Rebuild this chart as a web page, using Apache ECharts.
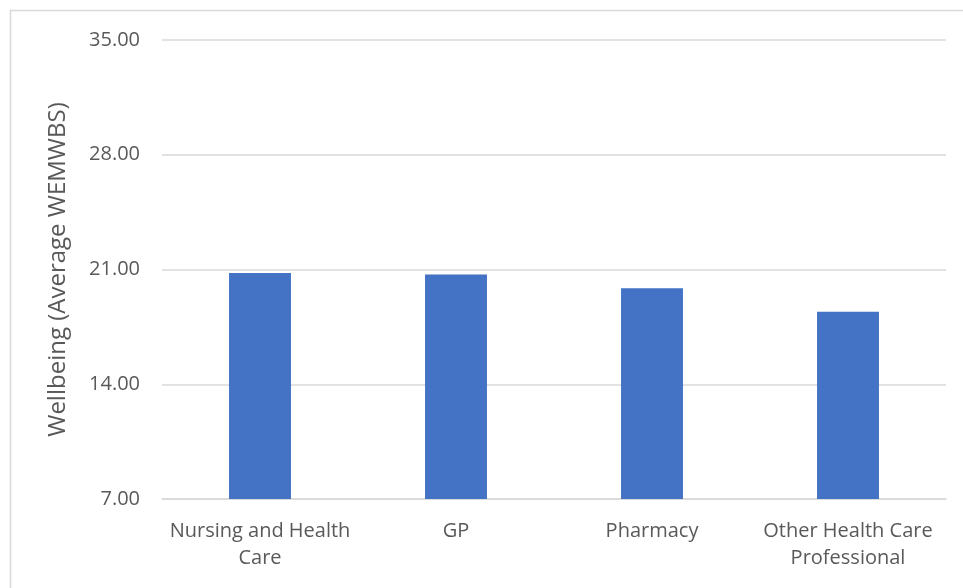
<!DOCTYPE html>
<html>
<head>
<meta charset="utf-8">
<script src="https://cdn.jsdelivr.net/npm/echarts@6/dist/echarts.min.js"></script>
<style>
  html, body { margin: 0; padding: 0; background: #fff; }
  #chart { width: 963px; height: 588px; }
</style>
</head>
<body>
<div id="chart"></div>
<script>
// Average WEMWBS wellbeing score by profession
const categories = ['Nursing and Health\nCare', 'GP', 'Pharmacy', 'Other Health Care\nProfessional'];
const wellbeing = [20.78, 20.70, 19.85, 18.42];
const yTicks = { min: 7, max: 35, interval: 7 };
const yAxisTitle = 'Wellbeing (Average WEMWBS)';

const FONT = '"Open Sans", sans-serif';
const chart = echarts.init(document.getElementById('chart'), null, { renderer: 'canvas' });

chart.setOption({
  animation: false,
  backgroundColor: '#ffffff',
  graphic: [{
    type: 'rect',
    shape: { x: 10.5, y: 10.5, width: 980, height: 600 },
    style: { fill: 'none', stroke: '#d9d9d9', lineWidth: 1.5 },
    silent: true
  }],
  grid: { left: 162, right: 17, top: 40, bottom: 89, containLabel: false },
  xAxis: {
    type: 'category',
    data: categories,
    axisLine: { show: true, lineStyle: { color: '#d9d9d9', width: 1.5 } },
    axisTick: { show: false },
    axisLabel: {
      color: '#595959',
      fontFamily: FONT,
      fontSize: 20,
      lineHeight: 27,
      margin: 19,
      interval: 0
    }
  },
  yAxis: {
    type: 'value',
    min: yTicks.min,
    max: yTicks.max,
    interval: yTicks.interval,
    name: yAxisTitle,
    nameLocation: 'middle',
    nameGap: 92,
    nameTextStyle: { color: '#595959', fontFamily: FONT, fontSize: 24 },
    axisLine: { show: false },
    axisTick: { show: false },
    splitLine: { lineStyle: { color: '#d9d9d9', width: 1.5 } },
    axisLabel: {
      color: '#595959',
      fontFamily: FONT,
      fontSize: 20,
      margin: 22,
      formatter: v => v.toFixed(2)
    }
  },
  series: [{
    type: 'bar',
    data: wellbeing,
    barWidth: '31.6%',
    itemStyle: { color: '#4472c4' }
  }]
});
</script>
</body>
</html>
